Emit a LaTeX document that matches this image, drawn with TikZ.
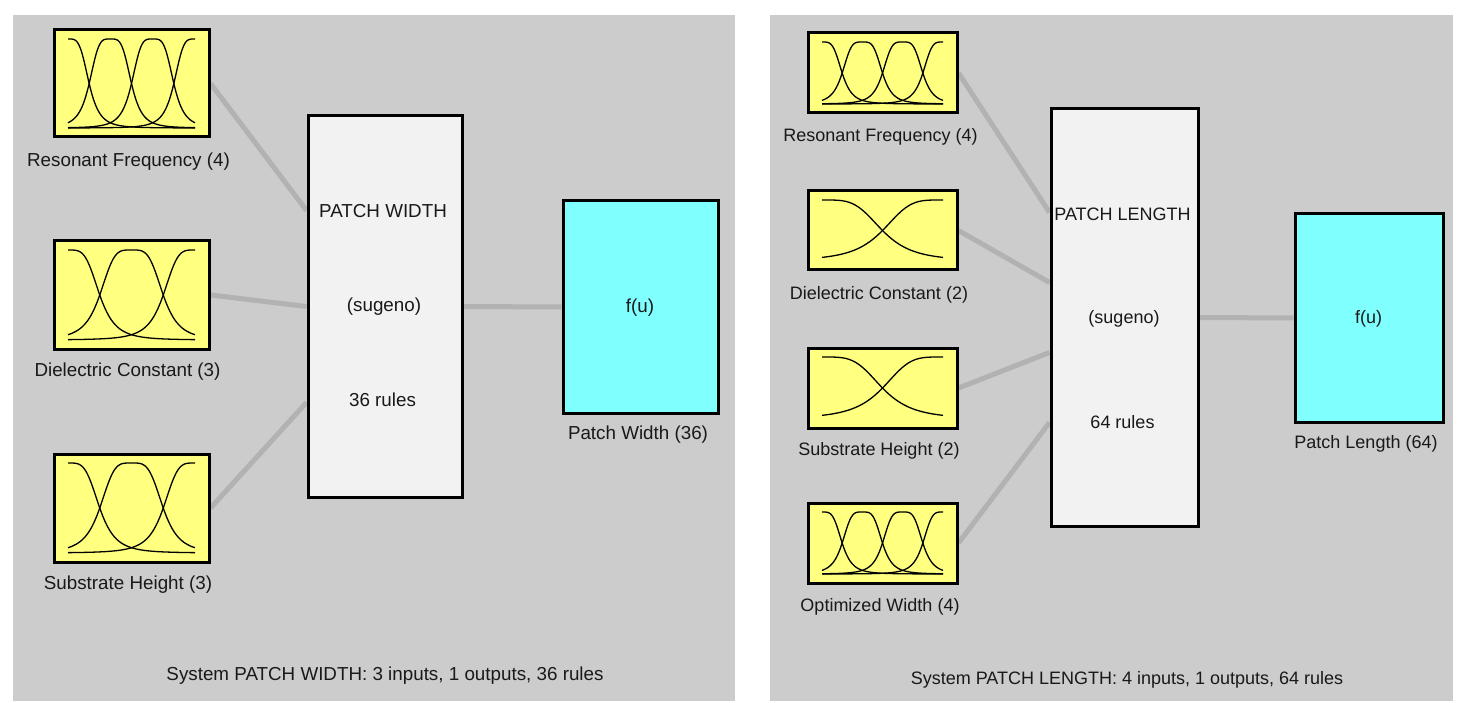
\documentclass[tikz,border=0pt]{standalone}
\usepackage{fontspec}
\setmainfont{Liberation Sans}
\usetikzlibrary{backgrounds,calc}
\definecolor{panelgray}{RGB}{204,204,204}
\definecolor{wiregray}{RGB}{178,178,178}
\definecolor{mfyellow}{RGB}{255,255,128}
\definecolor{fiscol}{RGB}{242,242,242}
\definecolor{outcyan}{RGB}{128,255,255}
\definecolor{txt}{RGB}{25,25,25}
\newcommand\mfcurves[5]{% #1 x0, #2 x1, #3 y0, #4 y1, #5 n
  \pgfmathsetmacro\mfxa{#1+14}\pgfmathsetmacro\mfxb{#2-14}%
  \pgfmathsetmacro\mfyt{#3+9}\pgfmathsetmacro\mfyb{#4-9}%
  \pgfmathsetmacro\mfdd{(\mfxb-\mfxa)/(#5-1)}\pgfmathsetmacro\mfss{\mfdd/2}%
  \foreach \k in {1,...,#5}{%
    \pgfmathsetmacro\mfcc{\mfxa+(\k-1)*\mfdd}%
    \draw[mfline] plot[domain=\mfxa:\mfxb,samples=100,smooth] (\x,{\mfyb-(\mfyb-\mfyt)/(1+((\x-\mfcc)/\mfss)^4)});
  }%
}
\begin{document}
\begin{tikzpicture}[x=1pt,y=-1pt,
  inbox/.style={draw=black,line width=3pt,fill=mfyellow,inner sep=0pt,minimum width=#1},
  inbox/.default=155pt,
  fisbox/.style={draw=black,line width=3pt,fill=fiscol,inner sep=0pt},
  outbox/.style={draw=black,line width=3pt,fill=outcyan,inner sep=0pt},
  lblL/.style={text=txt,font=\fontsize{18.8}{22}\selectfont,inner sep=0pt},
  lblR/.style={text=txt,font=\fontsize{18}{21}\selectfont,inner sep=0pt},
  wire/.style={draw=wiregray,line width=5pt},
  mfline/.style={draw=black,line width=1.3pt},
  panel/.style={fill=panelgray,draw=none}]
\useasboundingbox (0,0) rectangle (1464,703);

% ---------- left panel ----------
\node[inbox=155pt,minimum height=107pt] (rfL) at (131.5,83.5) {};
\node[inbox=155pt,minimum height=108pt] (dcL) at (131.5,295) {};
\node[inbox=155pt,minimum height=108pt] (shL) at (131.5,508) {};
\mfcurves{54}{209}{30}{137}{4}
\mfcurves{54}{209}{241}{349}{3}
\mfcurves{54}{209}{454}{562}{3}
\node[lblL] (rfLt) at (128.5,162) {Resonant Frequency (4)};
\node[lblL] (dcLt) at (127.5,372) {Dielectric Constant (3)};
\node[lblL] (shLt) at (128,585) {Substrate Height (3)};
\node[fisbox,minimum width=154pt,minimum height=381pt] (fisL) at (385,306.5) {};
\node[lblL] (fisLa) at (383,211) {PATCH WIDTH};
\node[lblL] (fisLb) at (384,307) {(sugeno)};
\node[lblL] (fisLc) at (382.5,400) {36 rules};
\node[outbox,minimum width=155pt,minimum height=212pt] (outL) at (640.5,307) {};
\node[lblL] (outLa) at (640,308) {f(u)};
\node[lblL] (outLt) at (638,435) {Patch Width (36)};
\node[lblL] (sysL) at (385,676) {System PATCH WIDTH: 3 inputs, 1 outputs, 36 rules};

% ---------- right panel ----------
\node[inbox=149pt,minimum height=80pt] (rfR) at (882.5,73) {};
\node[inbox=149pt,minimum height=79pt] (dcR) at (882.5,230.5) {};
\node[inbox=149pt,minimum height=80pt] (shR) at (882.5,388) {};
\node[inbox=149pt,minimum height=80pt] (owR) at (882.5,543) {};
\mfcurves{808}{957}{33}{113}{4}
\mfcurves{808}{957}{191}{270}{2}
\mfcurves{808}{957}{348}{428}{2}
\mfcurves{808}{957}{503}{583}{4}
\node[lblR] (rfRt) at (880.5,137) {Resonant Frequency (4)};
\node[lblR] (dcRt) at (879,295) {Dielectric Constant (2)};
\node[lblR] (shRt) at (879,451) {Substrate Height (2)};
\node[lblR] (owRt) at (880,607) {Optimized Width (4)};
\node[fisbox,minimum width=147pt,minimum height=417pt] (fisR) at (1124.5,317.5) {};
\node[lblR] (fisRa) at (1122.5,214) {PATCH LENGTH};
\node[lblR] (fisRb) at (1124,319) {(sugeno)};
\node[lblR] (fisRc) at (1122.5,422) {64 rules};
\node[outbox,minimum width=148pt,minimum height=208pt] (outR) at (1369,318) {};
\node[lblR] (outRa) at (1368.5,319) {f(u)};
\node[lblR] (outRt) at (1366,444) {Patch Length (64)};
\node[lblR] (sysR) at (1127,680) {System PATCH LENGTH: 4 inputs, 1 outputs, 64 rules};

% ---------- panels and wires behind ----------
\begin{scope}[on background layer]
  \fill[white] (0,0) rectangle (1464,703);
  \fill[panel] (13,15) rectangle (735,701);
  \fill[panel] (770,15) rectangle (1453,701);
  \coordinate (fisL1) at ($(fisL.north west)!0.25!(fisL.south west)$);
  \coordinate (fisL2) at ($(fisL.north west)!0.5!(fisL.south west)$);
  \coordinate (fisL3) at ($(fisL.north west)!0.75!(fisL.south west)$);
  \draw[wire] (rfL.east) -- (fisL1);
  \draw[wire] (dcL.east) -- (fisL2);
  \draw[wire] (shL.east) -- (fisL3);
  \draw[wire] (fisL.east) -- (outL.west);
  \coordinate (fisR1) at ($(fisR.north west)!0.25!(fisR.south west)$);
  \coordinate (fisR2) at ($(fisR.north west)!0.4167!(fisR.south west)$);
  \coordinate (fisR3) at ($(fisR.north west)!0.5833!(fisR.south west)$);
  \coordinate (fisR4) at ($(fisR.north west)!0.75!(fisR.south west)$);
  \draw[wire] (rfR.east) -- (fisR1);
  \draw[wire] (dcR.east) -- (fisR2);
  \draw[wire] (shR.east) -- (fisR3);
  \draw[wire] (owR.east) -- (fisR4);
  \draw[wire] (fisR.east) -- (outR.west);
\end{scope}
\end{tikzpicture}
\end{document}
